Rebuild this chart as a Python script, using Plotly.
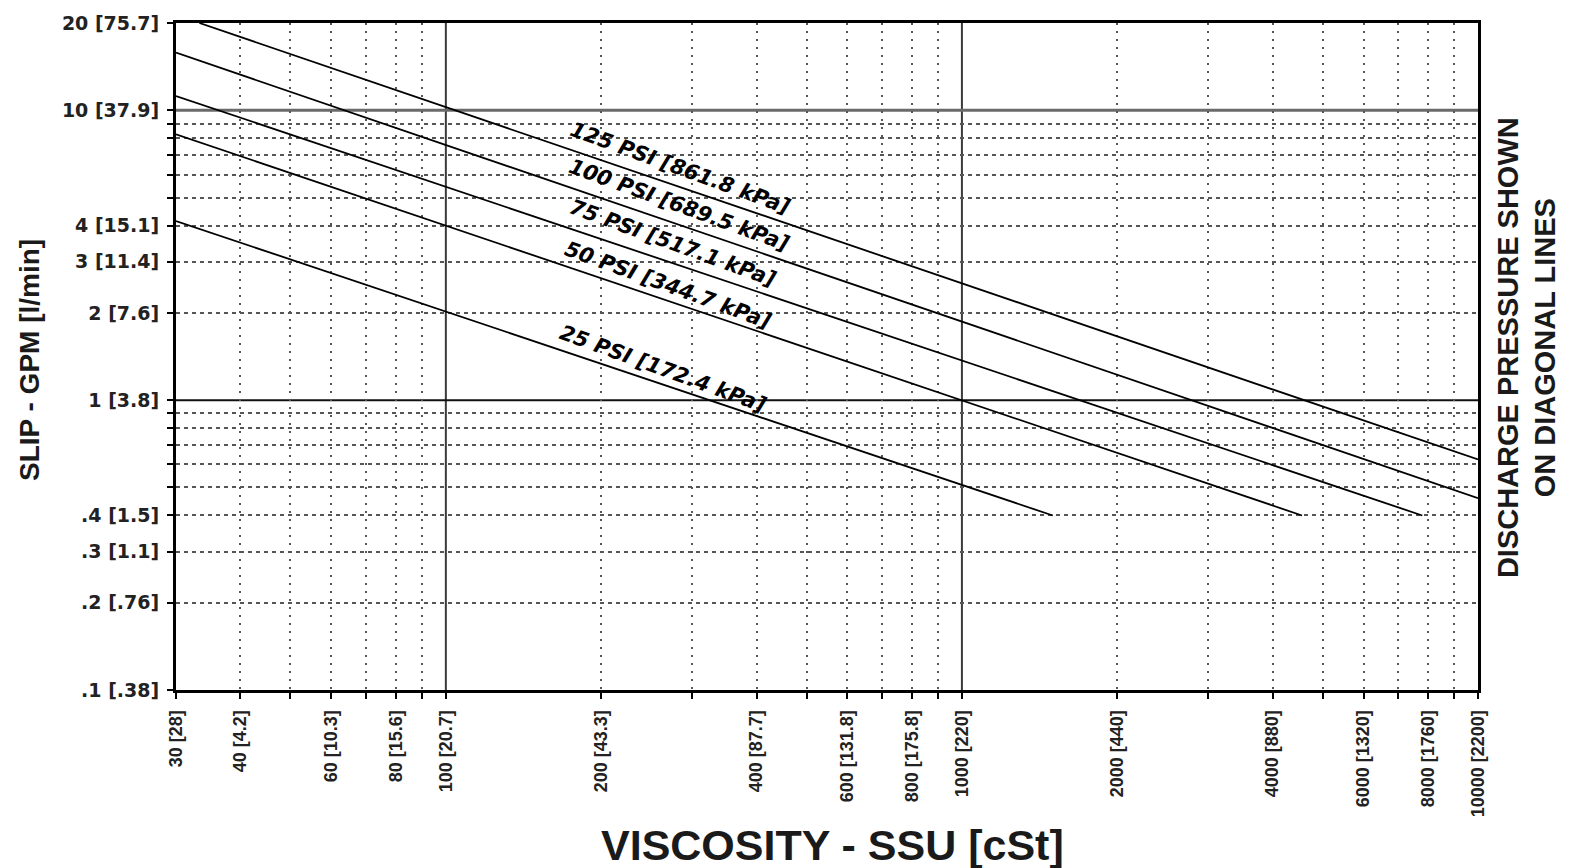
import math
import plotly.graph_objects as go

# ---------------- data ----------------
x_tick_vals = [30, 40, 60, 80, 100, 200, 400, 600, 800, 1000, 2000, 4000, 6000, 8000, 10000]
x_tick_text = ["30 [28]", "40 [4.2]", "60 [10.3]", "80 [15.6]", "100 [20.7]", "200 [43.3]",
               "400 [87.7]", "600 [131.8]", "800 [175.8]", "1000 [220]", "2000 [440]",
               "4000 [880]", "6000 [1320]", "8000 [1760]", "10000 [2200]"]
x_minor_vals = [40, 50, 60, 70, 80, 90, 200, 300, 400, 500, 600, 700, 800, 900,
                2000, 3000, 4000, 5000, 6000, 7000, 8000, 9000]

y_tick_vals = [20, 10, 4, 3, 2, 1, 0.4, 0.3, 0.2, 0.1]
y_tick_text = ["20 [75.7]", "10 [37.9]", "4 [15.1]", "3 [11.4]", "2 [7.6]", "1 [3.8]",
               ".4 [1.5]", ".3 [1.1]", ".2 [.76]", ".1 [.38]"]
y_minor_vals = [0.2, 0.3, 0.4, 0.5, 0.6, 0.7, 0.8, 0.9, 2, 3, 4, 5, 6, 7, 8, 9]

major_x_lines = [100, 1000]
major_y_lines = [10, 1]

pressure_labels = ["125 PSI [861.8 kPa]", "100 PSI [689.5 kPa]", "75 PSI [517.1 kPa]",
                   "50 PSI [344.7 kPa]", "25 PSI [172.4 kPa]"]
ssu_start = [33.3, 30, 30, 30, 30]
gpm_start = [20, 15.8, 11.2, 8.26, 4.15]
ssu_end = [10000, 10000, 7800, 4560, 1500]
gpm_end = [0.624, 0.459, 0.4, 0.4, 0.4]

# label anchor points (data units)
label_ssu = [284, 283, 275, 269, 264]
label_gpm = [6.31, 4.71, 3.49, 2.49, 1.28]

# ---------------- figure ----------------
fig = go.Figure()

for name, xs, ys, xe, ye in zip(pressure_labels, ssu_start, gpm_start, ssu_end, gpm_end):
    fig.add_trace(go.Scatter(x=[xs, xe], y=[ys, ye], mode="lines", name=name,
                             line=dict(color="black", width=1.8), showlegend=False,
                             hoverinfo="skip"))

for name, lx, ly in zip(pressure_labels, label_ssu, label_gpm):
    fig.add_annotation(x=math.log10(lx), y=math.log10(ly), xref="x", yref="y",
                       text=name, showarrow=False, textangle=20,
                       xanchor="center", yanchor="middle",
                       font=dict(family="DejaVu Sans", size=21, color="black",
                                 weight="bold", style="italic"))

for xv in major_x_lines:
    fig.add_shape(type="line", xref="x", yref="paper", x0=xv, x1=xv, y0=0, y1=1,
                  line=dict(color="#3a3a3a", width=2), layer="between")
fig.add_shape(type="line", xref="paper", yref="y", x0=0, x1=1, y0=major_y_lines[0], y1=major_y_lines[0],
              line=dict(color="#6a6a6a", width=3), layer="between")
fig.add_shape(type="line", xref="paper", yref="y", x0=0, x1=1, y0=major_y_lines[1], y1=major_y_lines[1],
              line=dict(color="#111111", width=2), layer="between")

tick_font_x = dict(family="Liberation Sans, Arial, sans-serif", size=18, color="#222", weight="bold")
tick_font_y = dict(family="DejaVu Sans", size=19, color="#222", weight="bold")

fig.update_xaxes(
    type="log", range=[math.log10(30), math.log10(10000)],
    tickmode="array", tickvals=x_tick_vals, ticktext=x_tick_text, tickangle=-90,
    tickfont=tick_font_x, ticks="outside", ticklen=6, tickwidth=1.5, tickcolor="black",
    ticklabelstandoff=4,
    showgrid=False, zeroline=False,
    showline=True, mirror=True, linecolor="black", linewidth=3,
    minor=dict(tickmode="array", tickvals=x_minor_vals, ticks="outside", ticklen=6,
               tickwidth=1.5, tickcolor="black", showgrid=True, gridcolor="#555555",
               gridwidth=1.5, griddash="2px,6px"),
)
fig.update_yaxes(
    type="log", range=[math.log10(0.1), math.log10(20)],
    tickmode="array", tickvals=y_tick_vals, ticktext=y_tick_text,
    tickfont=tick_font_y, ticks="outside", ticklen=6, tickwidth=1.5, tickcolor="black",
    ticklabelstandoff=4,
    showgrid=False, zeroline=False,
    showline=True, mirror=True, linecolor="black", linewidth=3,
    minor=dict(tickmode="array", tickvals=y_minor_vals, ticks="outside", ticklen=6,
               tickwidth=1.5, tickcolor="black", showgrid=True, gridcolor="#555555",
               gridwidth=1.5, griddash="4px,4px"),
)

title_font = dict(family="Liberation Sans, Arial, sans-serif", color="#1a1a1a", weight="bold")
fig.add_annotation(xref="paper", yref="paper", x=0.5046, y=-0.2325, text="VISCOSITY - SSU [cSt]",
                   showarrow=False, xanchor="center", yanchor="middle",
                   font=dict(size=43, **title_font))
fig.add_annotation(xref="paper", yref="paper", x=-0.112, y=0.495, text="SLIP - GPM [l/min]",
                   showarrow=False, textangle=-90, xanchor="center", yanchor="middle",
                   font=dict(size=28, **title_font))
fig.add_annotation(xref="paper", yref="paper", x=1.0376, y=0.514,
                   text="DISCHARGE PRESSURE SHOWN<br>ON DIAGONAL LINES",
                   showarrow=False, textangle=-90, xanchor="center", yanchor="middle",
                   font=dict(size=29, **title_font))

fig.update_layout(
    width=1570, height=868,
    margin=dict(l=176, r=92, t=19, b=178),
    paper_bgcolor="white", plot_bgcolor="white",
)

fig.write_html("out.html")
